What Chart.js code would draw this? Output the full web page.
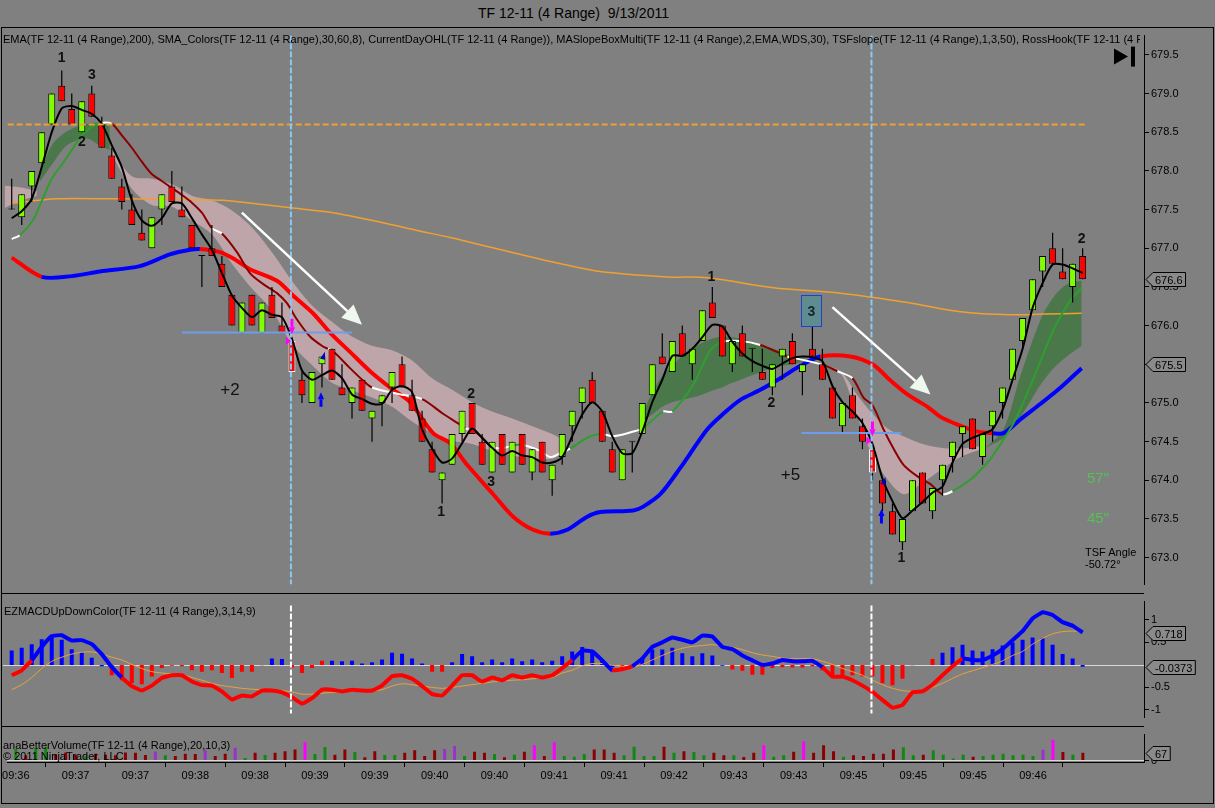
<!DOCTYPE html>
<html>
<head>
<meta charset="utf-8">
<title>TF 12-11 (4 Range) 9/13/2011</title>
<script src="https://cdn.jsdelivr.net/npm/chart.js@4.4.1/dist/chart.umd.min.js"></script>
<style>
  html, body { margin: 0; padding: 0; background: #808080; width: 1215px; height: 808px; overflow: hidden;
    font-family: 'Liberation Sans', Arial, sans-serif; }
  .pane { position: absolute; left: 0; width: 1215px; }
  .pane canvas { display: block; }
  .txt { position: absolute; color: #000; font-size: 11px; line-height: 12px; white-space: nowrap; z-index: 3; }
  .rule { position: absolute; background: #000; z-index: 2; }
</style>
</head>
<body>
<div class="txt" style="left:3px;width:1141px;top:5px;text-align:center;font-size:14px;line-height:16px">TF 12-11 (4 Range)&nbsp; 9/13/2011</div>
<div style="position:absolute;left:1px;top:27px;width:1211px;height:775px;border:1px solid #000"></div>

<div class="pane" style="top:27px;height:566px"><canvas id="priceChart" width="1215" height="566"></canvas></div>
<div class="pane" style="top:593px;height:133px"><canvas id="macdChart" width="1215" height="133"></canvas></div>
<div class="pane" style="top:726px;height:82px"><canvas id="volChart" width="1215" height="82"></canvas></div>

<div class="rule" style="left:2px;top:593px;width:1142px;height:1px"></div>
<div class="rule" style="left:2px;top:726px;width:1142px;height:1px"></div>

<div class="txt" style="left:3px;top:33px;width:1137px;overflow:hidden">EMA(TF 12-11 (4 Range),200), SMA_Colors(TF 12-11 (4 Range),30,60,8), CurrentDayOHL(TF 12-11 (4 Range)), MASlopeBoxMulti(TF 12-11 (4 Range),2,EMA,WDS,30), TSFslope(TF 12-11 (4 Range),1,3,50), RossHook(TF 12-11 (4 Range))</div>
<div class="txt" style="left:4px;top:605px">EZMACDUpDownColor(TF 12-11 (4 Range),3,14,9)</div>
<div class="txt" style="left:3px;top:739px">anaBetterVolume(TF 12-11 (4 Range),20,10,3)</div>
<div class="txt" style="left:3px;top:750px">© 2011 NinjaTrader, LLC</div>
<div class="txt" style="left:1087px;top:470px;font-size:15px;line-height:16px;color:#55C055">57"</div>
<div class="txt" style="left:1087px;top:510px;font-size:15px;line-height:16px;color:#55C055">45"</div>
<div class="txt" style="left:1085px;top:546px">TSF Angle</div>
<div class="txt" style="left:1085px;top:558px">-50.72°</div>

<script>
// ---- time axis ----
const timeLabels = ['09:36', '09:37', '09:37', '09:38', '09:38', '09:39', '09:39', '09:40', '09:40',
  '09:41', '09:41', '09:42', '09:43', '09:43', '09:45', '09:45', '09:45', '09:46'];
const tickEvery = 6;

// ---- 4 range bars ----
const opens = [677.5, 677.4, 677.8, 678.1, 678.6, 679.1, 678.8, 678.5, 679.0, 678.6,
  678.2, 677.8, 677.5, 677.2, 677.0, 677.5, 677.8, 677.5, 677.3, 676.9,
  677.0, 676.8, 676.4, 675.9, 676.4, 675.9, 676.4, 676.0, 675.8, 675.3,
  675.0, 675.5, 675.7, 675.2, 675.0, 675.3, 674.8, 675.0, 675.2, 675.5,
  675.1, 674.8, 674.4, 674.0, 674.2, 674.6, 675.0, 674.5, 674.1, 674.6,
  674.1, 674.6, 674.1, 674.5, 674.0, 674.3, 674.7, 675.0, 675.3, 674.9,
  674.4, 674.0, 674.5, 674.6, 675.1, 675.6, 675.4, 675.9, 675.5, 675.8,
  676.3, 676.0, 675.5, 675.9, 675.7, 675.4, 675.2, 675.6, 675.8, 675.4,
  675.7, 675.5, 675.2, 674.7, 675.1, 674.7, 674.4, 674.0, 673.6, 673.2,
  673.6, 674.1, 673.6, 674.0, 674.3, 674.6, 674.8, 674.3, 674.7, 675.0,
  675.3, 675.8, 676.2, 676.7, 677.0, 676.7, 676.5, 676.9];
const highs = [677.9, 677.7, 678.0, 678.5, 679.0, 679.3, 679.0, 678.9, 679.1, 678.7,
  678.3, 677.9, 677.7, 677.5, 677.4, 677.7, 678.0, 677.8, 677.3, 676.9,
  677.3, 676.9, 676.4, 676.3, 676.4, 676.3, 676.5, 676.3, 675.8, 675.4,
  675.4, 675.6, 675.7, 675.5, 675.2, 675.3, 674.9, 675.1, 675.4, 675.6,
  675.3, 674.9, 674.5, 674.1, 674.6, 674.9, 675.0, 674.6, 674.5, 674.6,
  674.5, 674.6, 674.4, 674.5, 674.2, 674.6, 674.9, 675.2, 675.4, 674.9,
  674.5, 674.4, 674.5, 675.0, 675.5, 675.9, 675.8, 676.0, 675.7, 676.2,
  676.5, 676.0, 675.8, 676.0, 675.7, 675.7, 675.5, 675.7, 675.9, 675.5,
  676.0, 675.7, 675.2, 675.0, 675.2, 674.8, 674.4, 674.0, 673.7, 673.5,
  674.0, 674.1, 673.9, 674.2, 674.5, 674.7, 674.8, 674.6, 674.9, 675.2,
  675.7, 676.1, 676.6, 676.9, 677.2, 677.0, 676.8, 677.0];
const lows = [677.5, 677.3, 677.6, 678.1, 678.6, 678.9, 678.6, 678.5, 678.7, 678.3,
  677.9, 677.5, 677.3, 677.1, 677.0, 677.3, 677.6, 677.4, 677.0, 676.5,
  676.9, 676.5, 676.0, 675.9, 676.0, 675.9, 676.1, 675.9, 675.4, 675.0,
  675.0, 675.2, 675.3, 675.1, 674.8, 674.9, 674.5, 674.7, 675.0, 675.2,
  674.9, 674.5, 674.1, 673.7, 674.2, 674.5, 674.6, 674.2, 674.1, 674.2,
  674.1, 674.2, 674.0, 674.1, 673.8, 674.2, 674.5, 674.8, 675.0, 674.5,
  674.1, 674.0, 674.1, 674.6, 675.1, 675.5, 675.4, 675.6, 675.3, 675.8,
  676.1, 675.6, 675.4, 675.6, 675.4, 675.3, 675.1, 675.3, 675.5, 675.1,
  675.6, 675.3, 674.8, 674.6, 674.8, 674.4, 674.0, 673.6, 673.3, 673.1,
  673.6, 673.7, 673.5, 673.8, 674.1, 674.3, 674.4, 674.2, 674.5, 674.8,
  675.3, 675.7, 676.2, 676.5, 676.8, 676.6, 676.3, 676.6];
const closes = [677.5, 677.7, 678.0, 678.5, 679.0, 678.9, 678.6, 678.9, 678.7, 678.3,
  677.9, 677.6, 677.3, 677.1, 677.4, 677.7, 677.6, 677.4, 677.0, 676.9,
  676.9, 676.5, 676.0, 676.3, 676.0, 676.3, 676.1, 675.9, 675.4, 675.1,
  675.4, 675.6, 675.3, 675.1, 675.2, 674.9, 674.9, 675.1, 675.4, 675.2,
  674.9, 674.5, 674.1, 674.1, 674.6, 674.9, 674.6, 674.2, 674.5, 674.2,
  674.5, 674.2, 674.4, 674.1, 674.2, 674.6, 674.9, 675.2, 675.0, 674.5,
  674.1, 674.4, 674.5, 675.0, 675.5, 675.5, 675.8, 675.6, 675.7, 676.2,
  676.1, 675.6, 675.8, 675.6, 675.7, 675.3, 675.5, 675.7, 675.5, 675.5,
  675.6, 675.3, 674.8, 675.0, 674.8, 674.5, 674.1, 673.7, 673.3, 673.5,
  674.0, 673.7, 673.9, 674.2, 674.5, 674.7, 674.4, 674.6, 674.9, 675.2,
  675.7, 676.1, 676.6, 676.9, 676.8, 676.6, 676.8, 676.6];
const hollowBars = [28, 86];

// ---- price overlays ----
const fastLine = [677.39, 677.48, 677.64, 678.05, 678.50, 678.81, 678.84, 678.79, 678.74, 678.61,
  678.33, 678.05, 677.62, 677.36, 677.29, 677.39, 677.58, 677.58, 677.39, 677.18,
  676.98, 676.68, 676.39, 676.23, 676.11, 676.20, 676.14, 676.11, 675.83, 675.42,
  675.30, 675.36, 675.42, 675.32, 675.11, 675.05, 674.99, 674.99, 675.17, 675.22,
  675.14, 674.66, 674.41, 674.23, 674.28, 674.48, 674.67, 674.55, 674.42, 674.32,
  674.38, 674.32, 674.30, 674.23, 674.23, 674.30, 674.57, 674.85, 675.01, 674.89,
  674.57, 674.35, 674.35, 674.63, 675.01, 675.30, 675.61, 675.61, 675.70, 675.85,
  676.01, 675.99, 675.79, 675.64, 675.54, 675.48, 675.44, 675.51, 675.58, 675.60,
  675.59, 675.54, 675.22, 675.01, 674.89, 674.74, 674.47, 674.02, 673.73, 673.51,
  673.61, 673.72, 673.84, 673.92, 674.23, 674.47, 674.55, 674.60, 674.66, 674.91,
  675.30, 675.70, 676.23, 676.55, 676.79, 676.79, 676.74, 676.68];

const maLine = [[0.0, 677.12], [0.8, 677.17], [2.1, 677.36], [3.1, 677.64], [4.0, 677.90], [5.0, 678.08],
  [6.0, 678.27], [7.0, 678.46], [8.0, 678.57], [8.8, 678.62], [10.0, 678.61], [11.0, 678.46], [12.0, 678.30],
  [13.0, 678.12], [14.0, 677.96], [15.0, 677.87], [16.0, 677.78], [17.0, 677.69], [18.0, 677.59], [19.0, 677.46],
  [20.0, 677.26], [21.0, 677.19], [22.5, 676.95], [23.8, 676.68], [25.1, 676.54], [26.5, 676.42], [27.5, 676.29],
  [28.5, 676.08], [29.8, 675.86], [31.1, 675.73], [31.6, 675.70], [32.2, 675.66], [33.8, 675.45], [35.1, 675.29],
  [36.0, 675.20], [38.5, 675.12], [41.0, 675.05], [43.1, 674.86], [44.8, 674.72], [45.3, 674.67], [46.0, 674.66],
  [47.0, 674.55], [47.8, 674.45], [48.8, 674.41], [50.1, 674.45], [51.0, 674.46], [52.8, 674.38], [53.8, 674.30],
  [54.8, 674.35], [55.8, 674.41], [57.5, 674.55], [58.8, 674.60], [60.1, 674.57], [62.1, 674.63], [63.0, 674.67],
  [64.1, 674.79], [65.1, 674.89], [66.0, 674.89], [68.1, 675.24], [69.8, 675.68], [71.0, 675.79], [72.8, 675.80],
  [74.8, 675.75], [76.8, 675.64], [77.5, 675.60], [79.3, 675.55], [81.1, 675.49], [82.5, 675.41], [84.0, 675.32],
  [85.1, 675.07], [86.0, 674.97], [87.1, 674.66], [88.1, 674.41], [89.1, 674.20], [90.5, 674.05], [91.8, 673.95],
  [93.0, 673.82], [94.0, 673.86], [95.8, 674.01], [97.5, 674.23], [98.5, 674.41], [100.1, 674.74], [102.1, 675.32],
  [104.1, 675.95], [105.8, 676.33], [106.9, 676.49]];
const maTone = 'WGGGGGGGGW' + 'RRRRRRRRRR' + 'WRRRRRRRRR' + 'WRRRWWRRRW' + 'RRWWGWWWWG' +
  'GWWWGGWGGG' + 'WWRRWWRWRR' + 'RRRRRRWGGG' + 'GGGGGG';

const slopeLine = [[0.0, 676.88], [3.0, 676.63], [6.0, 676.64], [8.8, 676.70], [12.8, 676.77], [15.8, 676.92],
  [17.8, 676.98], [18.8, 676.99], [20.8, 676.95], [22.1, 676.87], [23.8, 676.73], [26.5, 676.58], [28.1, 676.39],
  [30.1, 676.16], [31.8, 675.91], [33.8, 675.66], [35.8, 675.41], [37.8, 675.20], [39.8, 675.01], [42.1, 674.61],
  [43.8, 674.48], [45.5, 674.20], [48.1, 673.82], [50.1, 673.53], [52.1, 673.36], [53.8, 673.31], [55.5, 673.36],
  [57.5, 673.53], [58.8, 673.59], [62.1, 673.61], [63.1, 673.66], [64.8, 673.82], [66.8, 674.16], [69.5, 674.66],
  [71.1, 674.86], [72.8, 675.04], [74.8, 675.17], [76.8, 675.32], [78.8, 675.48], [80.8, 675.60], [83.8, 675.60],
  [86.1, 675.49], [87.8, 675.29], [89.5, 675.11], [91.5, 674.95], [92.8, 674.82], [94.5, 674.72], [96.5, 674.63],
  [98.0, 674.61], [99.1, 674.61], [100.8, 674.79], [102.8, 674.99], [104.8, 675.20], [106.9, 675.45]];
const slopeTone = 'R' + 'BBBBBB' + 'RRRRRRRRRRRRRRRRRR' + 'BBBBBBBBBBBBBB' + 'RRRRRRRRR' + 'BBBBBB';

const emaLine = [[0.0, 677.58], [4.5, 677.64], [9.8, 677.64], [17.5, 677.63], [21.1, 677.62], [25.5, 677.56],
  [28.1, 677.52], [32.1, 677.46], [37.1, 677.33], [40.5, 677.23], [43.8, 677.14], [53.8, 676.83], [58.8, 676.70],
  [65.5, 676.63], [69.5, 676.62], [76.1, 676.49], [82.8, 676.42], [89.5, 676.30], [94.8, 676.18], [99.8, 676.14],
  [103.1, 676.15], [106.9, 676.16]];

// cloud between the two SMA_Colors averages
const cloudA = { x: [2.8, 4.0, 5.5, 7.5, 8.8, 9.8],
  hi: [677.96, 678.33, 678.51, 678.61, 678.62, 678.58], lo: [677.86, 678.08, 678.33, 678.42, 678.33, 678.27] };
const cloudB = { x: [-0.7, 0.8, 2.5], hi: [677.81, 677.79, 677.74], lo: [677.52, 677.61, 677.68] };
const cloudC = { x: [10, 12, 14, 16, 18, 20, 22, 24, 26, 28, 30, 32, 34, 36, 38, 40, 42, 44, 46, 48, 50, 52, 54, 55.3],
  hi: [678.27, 677.93, 677.90, 677.83, 677.68, 677.62, 677.49, 677.27, 676.95, 676.58, 676.26, 676.05,
    675.86, 675.74, 675.68, 675.55, 675.32, 675.17, 675.01, 674.89, 674.80, 674.70, 674.60, 674.51],
  lo: [678.21, 677.77, 677.56, 677.54, 677.36, 677.18, 676.80, 676.48, 676.20, 675.76, 675.49, 675.26,
    675.16, 675.07, 674.95, 674.76, 674.61, 674.51, 674.47, 674.38, 674.32, 674.28, 674.28, 674.38] };
const cloudD = { x: [62.8, 64, 65, 66, 67, 68, 69, 70, 71, 72, 73, 74, 75, 76, 77, 78, 79, 80.3],
  hi: [674.79, 675.14, 675.35, 675.48, 675.61, 675.70, 675.78, 675.83, 675.86, 675.85, 675.83, 675.79,
    675.75, 675.70, 675.66, 675.61, 675.58, 675.54],
  lo: [674.74, 674.85, 674.95, 675.01, 675.04, 675.07, 675.11, 675.16, 675.20, 675.26, 675.31, 675.36,
    675.41, 675.45, 675.48, 675.50, 675.53, 675.54] };
const cloudE = { x: [80.8, 82.8, 84.5, 85.8, 87.5, 89.1, 90.8, 92.8, 94.8, 97.3],
  hi: [675.50, 675.41, 675.10, 674.89, 674.67, 674.57, 674.48, 674.42, 674.41, 674.45],
  lo: [675.50, 675.39, 674.82, 674.38, 674.01, 673.82, 673.95, 674.13, 674.30, 674.42] };
const cloudF = { x: [97.3, 99.1, 100.8, 102.8, 104.1, 105.5, 106.9],
  hi: [674.42, 674.66, 675.36, 676.08, 676.37, 676.54, 676.58],
  lo: [674.42, 674.55, 674.82, 675.24, 675.45, 675.61, 675.74] };

const priceTicks = [673.0, 673.5, 674.0, 674.5, 675.0, 675.5, 676.0, 676.5, 677.0, 677.5, 678.0, 678.5, 679.0, 679.5];
const priceTags = [676.6, 675.5];
const dayHigh = 678.6;
const dayHighSpan = [-0.4, 107.5];
const markerBars = [27.9, 85.9];
const entryLines = [[17.0, 34.0, 675.91], [78.9, 88.9, 674.61]];
const trendArrows = [[23.0, 677.46, 35.0, 676.01], [82.0, 676.24, 91.8, 675.11]];
const swingBars = [5.0, 8.0, 7.0, 42.9, 45.9, 47.9, 69.9, 75.9, 88.9, 106.9];
const swingPrices = [679.46, 679.24, 678.37, 673.59, 675.12, 673.98, 676.63, 675.00, 672.99, 677.12];
const swingTexts = ['1', '3', '2', '1', '2', '3', '1', '2', '1', '2'];
const tradeBars = [21.8, 77.8];
const tradePrices = [675.17, 674.07];
const tradeTexts = ['+2', '+5'];
const hookBox = [78.9, 80.9, 675.99, 676.39];
const sellArrows = [[28.0, 676.09, 675.89], [86.0, 674.76, 674.57]];
const buyArrows = [[30.9, 674.95, 675.14], [86.9, 673.44, 673.63]];
const sellTicks = [[27.6, 675.80], [85.6, 674.51]];
const buyTicks = [[31.1, 675.61], [87.1, 673.99]];

// ---- EZMACD ----
const macdHist = [0.32, 0.38, 0.46, 0.57, 0.66, 0.56, 0.35, 0.28, 0.16, -0.03,
  -0.23, -0.34, -0.40, -0.43, -0.26, -0.07, -0.02, -0.03, -0.12, -0.15,
  -0.12, -0.18, -0.29, -0.15, -0.15, -0.01, 0.14, 0.13, -0.06, -0.18,
  -0.07, 0.09, 0.09, 0.08, 0.09, 0.03, 0.06, 0.12, 0.27, 0.25,
  0.14, 0.03, -0.15, -0.15, 0.06, 0.24, 0.19, 0.06, 0.12, 0.06,
  0.14, 0.08, 0.12, 0.06, 0.09, 0.19, 0.30, 0.40, 0.29, 0.11,
  -0.06, -0.07, -0.04, 0.16, 0.34, 0.34, 0.38, 0.26, 0.19, 0.26,
  0.21, -0.02, -0.10, -0.13, -0.22, -0.22, -0.07, -0.05, -0.06, -0.06,
  -0.03, -0.12, -0.28, -0.23, -0.23, -0.26, -0.25, -0.41, -0.45, -0.31,
  -0.01, 0, 0.13, 0.27, 0.39, 0.45, 0.32, 0.30, 0.35, 0.43,
  0.50, 0.56, 0.61, 0.59, 0.45, 0.24, 0.14, -0.04];
const macdHistTone = 'BBBBBBBBBB' + 'RRRRRRRRRR' + 'RRRRRRBBRR' + 'RRBBBBBBBB' + 'BBRRBBBBBB' +
  'BBBBBBBBBB' + 'BRRBBBBBBB' + 'BBRRRRRRRR' + 'RRRRRRRRRR' + 'RRRBBBBBBB' + 'BBBBBBBB';
const macdLine = [-0.23, -0.12, 0.10, 0.40, 0.64, 0.66, 0.54, 0.55, 0.46, 0.24,
  -0.05, -0.28, -0.47, -0.57, -0.46, -0.29, -0.23, -0.23, -0.37, -0.45,
  -0.46, -0.59, -0.77, -0.68, -0.70, -0.57, -0.57, -0.61, -0.72, -0.86,
  -0.74, -0.55, -0.55, -0.59, -0.55, -0.57, -0.57, -0.46, -0.25, -0.23,
  -0.31, -0.47, -0.65, -0.68, -0.46, -0.23, -0.23, -0.37, -0.28, -0.34,
  -0.23, -0.28, -0.23, -0.28, -0.23, -0.07, 0.11, 0.32, 0.30, 0.10,
  -0.12, -0.10, -0.03, 0.14, 0.40, 0.50, 0.61, 0.56, 0.50, 0.65,
  0.63, 0.40, 0.35, 0.21, 0.10, 0.00, 0.03, 0.11, 0.08, 0.08,
  0.09, -0.05, -0.26, -0.26, -0.34, -0.46, -0.60, -0.78, -0.95, -0.89,
  -0.61, -0.59, -0.44, -0.23, -0.03, 0.14, 0.11, 0.11, 0.21, 0.35,
  0.55, 0.75, 1.03, 1.17, 1.11, 0.95, 0.87, 0.72];
// colour of each MACD line segment, as drawn
const macdTone = 'RR' + 'BBBBBBBBB' + 'R'.repeat(45) + 'BBBB' + 'RR' + 'B'.repeat(19) + 'R'.repeat(14) + 'B'.repeat(13);
const macdSignal = [-0.55, -0.44, -0.28, -0.08, 0.08, 0.17, 0.24, 0.28, 0.29, 0.24,
  0.17, 0.11, 0.01, -0.08, -0.15, -0.18, -0.20, -0.21, -0.28, -0.34,
  -0.41, -0.46, -0.49, -0.52, -0.54, -0.55, -0.55, -0.57, -0.60, -0.65,
  -0.65, -0.63, -0.61, -0.60, -0.59, -0.59, -0.58, -0.55, -0.47, -0.42,
  -0.44, -0.47, -0.50, -0.52, -0.50, -0.47, -0.44, -0.41, -0.38, -0.35,
  -0.34, -0.33, -0.31, -0.29, -0.28, -0.18, -0.12, -0.02, 0.03, 0.03,
  -0.01, -0.03, -0.05, 0.01, 0.11, 0.21, 0.30, 0.37, 0.41, 0.43,
  0.45, 0.42, 0.39, 0.34, 0.27, 0.22, 0.19, 0.15, 0.14, 0.14,
  0.14, 0.08, 0.01, -0.08, -0.15, -0.23, -0.34, -0.44, -0.52, -0.57,
  -0.59, -0.58, -0.50, -0.41, -0.30, -0.20, -0.13, -0.06, 0.01, 0.09,
  0.21, 0.30, 0.46, 0.59, 0.69, 0.74, 0.75, 0.75];
const macdTicks = [-1, -0.5, 0.5, 1];
const macdTags = [0.718, -0.0373];

// ---- anaBetterVolume ----
const volume = [100, 45, 110, 120, 55, 70, 50, 40, 60, 50,
  45, 70, 67, 49, 78, 45, 40, 60, 56, 89,
  40, 60, 111, 22, 67, 49, 67, 82, 96, 160,
  56, 118, 51, 96, 74, 29, 82, 49, 49, 67,
  89, 40, 89, 100, 127, 40, 76, 67, 58, 29,
  51, 76, 134, 40, 160, 40, 33, 58, 96, 96,
  67, 45, 120, 40, 40, 120, 67, 82, 74, 47,
  67, 47, 47, 31, 67, 134, 33, 47, 76, 167,
  67, 134, 82, 33, 45, 40, 60, 60, 96, 116,
  45, 51, 89, 51, 18, 51, 33, 40, 51, 60,
  47, 51, 40, 94, 183, 74, 51, 67];
const volumeTone = 'GRGGRRRGRR' + 'RRRRPGRRRP' + 'RRPGRGRRRM' + 'GGRRGRRGGR' + 'RRRPPGRRGR' +
  'GRMRMGGGRR' + 'RGGGGRGRGG' + 'RRGRRMGGRM' + 'RRRGRRRRRG' + 'GRGGGGRGGG' + 'GGGPMRGR';
const volTicks = [0];
const volTags = [67];

// ---- ranges ----
const X_MIN = -0.87, X_MAX = 113.13;
const PRICE_MIN = 672.654, PRICE_MAX = 679.75;
const MACD_MIN = -1.166, MACD_MAX = 1.406;
const VOL_MIN = -13.4, VOL_MAX = 227.8;

const FONT = "'Liberation Sans', Arial, sans-serif";
Chart.defaults.font.family = FONT;
Chart.defaults.font.size = 11;
Chart.defaults.color = '#000';

const UP = '#80FF00', DOWN = '#FF0000';
const toneColor = { W: '#FFFFFF', G: '#2E9E2E', R: '#8B0000', B: '#0000FF' };
const slopeColor = { R: '#FF0000', B: '#0000FF' };
const volColor = { R: '#8B0000', G: '#0F8A0F', P: '#9932CC', M: '#FF00FF' };

function xAxis(show) {
  return {
    type: 'linear', min: X_MIN, max: X_MAX, offset: false, display: show,
    afterBuildTicks: s => { s.ticks = timeLabels.map((t, k) => ({ value: k * tickEvery })); },
    afterFit: s => { if (show) s.height = 41; },
    grid: { drawOnChartArea: false, drawTicks: true, tickLength: 5, color: '#000' },
    border: { display: true, color: '#000' },
    ticks: { color: '#000', padding: 2, maxRotation: 0, autoSkip: false, callback: (v, i) => timeLabels[i] }
  };
}

function yAxis(min, max, ticks, fmt) {
  return {
    position: 'right', min, max,
    afterFit: s => { s.width = 70; },
    afterBuildTicks: s => { s.ticks = ticks.map(v => ({ value: v })); },
    grid: { drawOnChartArea: false, drawTicks: true, tickLength: 5, color: '#000' },
    border: { display: true, color: '#000' },
    ticks: { color: '#000', padding: 2, autoSkip: false, callback: fmt }
  };
}

function baseOptions(scales, bottom) {
  return {
    responsive: false, animation: false, events: [],
    layout: { padding: { left: 3, right: 1, top: 0, bottom }, autoPadding: false },
    plugins: { legend: { display: false }, tooltip: { enabled: false } },
    scales
  };
}

function drawTag(chart, value, text) {
  const ctx = chart.ctx;
  const y = Math.round(chart.scales.y.getPixelForValue(value)) + 0.5;
  const x0 = chart.chartArea.right + 2;
  ctx.save();
  ctx.font = '11px ' + FONT;
  const w = ctx.measureText(text).width + 5;
  ctx.beginPath();
  ctx.moveTo(x0, y);
  ctx.lineTo(x0 + 7, y - 7);
  ctx.lineTo(x0 + 7 + w, y - 7);
  ctx.lineTo(x0 + 7 + w, y + 7);
  ctx.lineTo(x0 + 7, y + 7);
  ctx.closePath();
  ctx.fillStyle = '#8A8A8A';
  ctx.fill();
  ctx.strokeStyle = '#000';
  ctx.lineWidth = 1;
  ctx.stroke();
  ctx.fillStyle = '#000';
  ctx.textBaseline = 'middle';
  ctx.textAlign = 'left';
  ctx.fillText(text, x0 + 9, y + 1);
  ctx.restore();
}

function arrow(ctx, x1, y1, x2, y2, width, head, color, headColor) {
  const a = Math.atan2(y2 - y1, x2 - x1);
  const bx = x2 - head * Math.cos(a), by = y2 - head * Math.sin(a);
  const hw = head * 0.45;
  ctx.strokeStyle = color;
  ctx.lineWidth = width;
  ctx.beginPath(); ctx.moveTo(x1, y1); ctx.lineTo(bx, by); ctx.stroke();
  ctx.fillStyle = headColor;
  ctx.beginPath();
  ctx.moveTo(x2, y2);
  ctx.lineTo(bx + hw * Math.sin(a), by - hw * Math.cos(a));
  ctx.lineTo(bx - hw * Math.sin(a), by + hw * Math.cos(a));
  ctx.closePath();
  ctx.fill();
}

function cloudPair(c, color) {
  const line = { type: 'line', pointRadius: 0, borderWidth: 0, tension: 0.3, order: 10 };
  return [
    Object.assign({}, line, { data: c.x.map((b, k) => ({ x: b, y: c.hi[k] })), backgroundColor: color, fill: '+1' }),
    Object.assign({}, line, { data: c.x.map((b, k) => ({ x: b, y: c.lo[k] })), fill: false })
  ];
}

const PINK = 'rgba(252,202,212,0.5)', GREEN = 'rgba(22,112,22,0.5)';

// ---------------- price panel ----------------
const priceMarks = {
  id: 'priceMarks',
  afterDatasetsDraw(chart) {
    const { ctx, chartArea: a, scales: { x, y } } = chart;
    const X = v => x.getPixelForValue(v), Y = v => y.getPixelForValue(v);
    ctx.save();
    ctx.beginPath(); ctx.rect(a.left, a.top, a.right - a.left, a.bottom - a.top); ctx.clip();

    // current day high
    ctx.setLineDash([6, 3]);
    ctx.strokeStyle = '#F0A030'; ctx.lineWidth = 2;
    ctx.beginPath(); ctx.moveTo(X(dayHighSpan[0]), Y(dayHigh)); ctx.lineTo(X(dayHighSpan[1]), Y(dayHigh)); ctx.stroke();

    // signal bars
    ctx.setLineDash([6, 2]);
    ctx.strokeStyle = '#8CC8F0'; ctx.lineWidth = 2;
    markerBars.forEach(b => {
      ctx.beginPath(); ctx.moveTo(X(b), a.top); ctx.lineTo(X(b), a.bottom); ctx.stroke();
    });
    ctx.setLineDash([]);

    // entry levels
    ctx.strokeStyle = '#6E9BEB'; ctx.lineWidth = 2;
    entryLines.forEach(([b0, b1, p]) => {
      ctx.beginPath(); ctx.moveTo(X(b0), Y(p)); ctx.lineTo(X(b1), Y(p)); ctx.stroke();
    });

    // trend arrows
    trendArrows.forEach(([b0, p0, b1, p1]) => arrow(ctx, X(b0), Y(p0), X(b1), Y(p1), 2.5, 20, '#FFFFFF', '#EEF8EE'));

    // sell / buy arrows
    sellArrows.forEach(([b, p0, p1]) => arrow(ctx, X(b), Y(p0), X(b), Y(p1), 3, 7, '#FF00FF', '#FF00FF'));
    buyArrows.forEach(([b, p0, p1]) => arrow(ctx, X(b), Y(p0), X(b), Y(p1), 3, 7, '#0000FF', '#0000FF'));
    ctx.fillStyle = '#FF00FF';
    sellTicks.forEach(([b, p]) => {
      ctx.beginPath(); ctx.moveTo(X(b) - 2, Y(p) - 4); ctx.lineTo(X(b) + 3, Y(p)); ctx.lineTo(X(b) - 2, Y(p) + 4); ctx.closePath(); ctx.fill();
    });
    ctx.fillStyle = '#0000C0';
    buyTicks.forEach(([b, p]) => {
      ctx.beginPath(); ctx.moveTo(X(b) + 2, Y(p) - 4); ctx.lineTo(X(b) + 2, Y(p) + 4); ctx.lineTo(X(b) - 3, Y(p) + 3); ctx.closePath(); ctx.fill();
    });

    // RossHook box
    const bx0 = X(hookBox[0]), bx1 = X(hookBox[1]), by0 = Y(hookBox[3]), by1 = Y(hookBox[2]);
    ctx.fillStyle = '#5E8C91';
    ctx.fillRect(bx0, by0, bx1 - bx0, by1 - by0);
    ctx.strokeStyle = '#2040D0'; ctx.lineWidth = 1;
    ctx.strokeRect(Math.round(bx0) + 0.5, Math.round(by0) + 0.5, Math.round(bx1 - bx0), Math.round(by1 - by0));
    ctx.fillStyle = '#102828';
    ctx.font = 'bold 14px ' + FONT;
    ctx.textAlign = 'center'; ctx.textBaseline = 'middle';
    ctx.fillText('3', (bx0 + bx1) / 2, (by0 + by1) / 2 + 1);

    // swing counts
    ctx.fillStyle = '#111';
    ctx.font = 'bold 14px ' + FONT;
    swingBars.forEach((b, k) => ctx.fillText(swingTexts[k], X(b), Y(swingPrices[k])));

    // trade results
    ctx.font = '17px ' + FONT;
    tradeBars.forEach((b, k) => ctx.fillText(tradeTexts[k], X(b), Y(tradePrices[k])));
    ctx.restore();
  },
  afterDraw(chart) {
    const { ctx, chartArea: a } = chart;
    priceTags.forEach(v => drawTag(chart, v, v.toFixed(1)));
    // jump-to-end button
    ctx.save();
    ctx.fillStyle = '#000';
    ctx.beginPath();
    ctx.moveTo(a.right - 30, a.top + 13); ctx.lineTo(a.right - 16, a.top + 21); ctx.lineTo(a.right - 30, a.top + 29);
    ctx.closePath(); ctx.fill();
    ctx.fillRect(a.right - 13, a.top + 11, 4, 20);
    ctx.restore();
  }
};

const wickData = highs.map((h, i) => ({ x: i, y: [lows[i], h] }));
const bodyData = opens.map((o, i) => ({ x: i, y: [o, closes[i]] }));
const bodyFill = opens.map((o, i) => closes[i] > o ? UP : closes[i] < o ? DOWN : '#000');
const bodyEdge = opens.map((o, i) => hollowBars.includes(i) ? '#FFFFFF' : '#000');

new Chart(document.getElementById('priceChart'), {
  type: 'bar',
  data: {
    datasets: [
      ...cloudPair(cloudA, GREEN), ...cloudPair(cloudB, PINK), ...cloudPair(cloudC, PINK),
      ...cloudPair(cloudD, GREEN), ...cloudPair(cloudE, PINK), ...cloudPair(cloudF, GREEN),
      { type: 'line', data: emaLine.map(([b, p]) => ({ x: b, y: p })), borderColor: '#F0A030', borderWidth: 1.5,
        pointRadius: 0, tension: 0.3, fill: false, order: 8 },
      { type: 'line', data: slopeLine.map(([b, p]) => ({ x: b, y: p })), borderWidth: 4, pointRadius: 0,
        tension: 0.3, fill: false, order: 7, borderColor: '#FF0000',
        segment: { borderColor: c => slopeColor[slopeTone[c.p0DataIndex]] } },
      { type: 'line', data: maLine.map(([b, p]) => ({ x: b, y: p })), borderWidth: 2, pointRadius: 0,
        tension: 0.3, fill: false, order: 6, borderColor: '#2E9E2E',
        segment: { borderColor: c => toneColor[maTone[c.p0DataIndex]] } },
      { type: 'bar', data: wickData, backgroundColor: '#000', borderWidth: 0, grouped: false,
        categoryPercentage: 1, barPercentage: 0.12, order: 5 },
      { type: 'bar', data: bodyData, backgroundColor: bodyFill, borderColor: bodyEdge, borderWidth: 1,
        borderSkipped: false, minBarLength: 1, grouped: false, categoryPercentage: 1, barPercentage: 0.7, order: 4 },
      { type: 'line', data: fastLine.map((p, i) => ({ x: i, y: p })), borderColor: '#000', borderWidth: 2,
        pointRadius: 0, tension: 0.25, fill: false, order: 3 }
    ]
  },
  options: baseOptions({ x: xAxis(false), y: yAxis(PRICE_MIN, PRICE_MAX, priceTicks, v => v.toFixed(1)) }, 0),
  plugins: [priceMarks]
});

// ---------------- MACD panel ----------------
const macdMarks = {
  id: 'macdMarks',
  beforeDatasetsDraw(chart) {
    const { ctx, chartArea: a, scales: { y } } = chart;
    const y0 = Math.round(y.getPixelForValue(0)) + 0.5;
    ctx.save();
    ctx.strokeStyle = '#D8D8D8'; ctx.lineWidth = 1;
    ctx.beginPath(); ctx.moveTo(a.left, y0); ctx.lineTo(a.right, y0); ctx.stroke();
    ctx.restore();
  },
  afterDatasetsDraw(chart) {
    const { ctx, chartArea: a, scales: { x } } = chart;
    ctx.save();
    ctx.strokeStyle = '#FFFFFF'; ctx.lineWidth = 2; ctx.setLineDash([6, 2]);
    markerBars.forEach(b => {
      ctx.beginPath(); ctx.moveTo(x.getPixelForValue(b), a.top + 4); ctx.lineTo(x.getPixelForValue(b), a.bottom - 4); ctx.stroke();
    });
    ctx.restore();
  },
  afterDraw(chart) {
    macdTags.forEach(v => drawTag(chart, v, String(v)));
  }
};

new Chart(document.getElementById('macdChart'), {
  type: 'bar',
  data: {
    datasets: [
      { type: 'line', data: macdLine.map((v, i) => ({ x: i, y: v })), borderWidth: 4, pointRadius: 0,
        tension: 0.1, fill: false, order: 1, borderColor: '#0000FF',
        segment: { borderColor: c => macdTone[c.p0DataIndex] === 'B' ? '#0000FF' : '#FF0000' } },
      { type: 'line', data: macdSignal.map((v, i) => ({ x: i, y: v })), borderWidth: 1, pointRadius: 0,
        tension: 0.3, fill: false, order: 2, borderColor: '#E8A040' },
      { type: 'bar', data: macdHist.map((v, i) => ({ x: i, y: v })),
        backgroundColor: macdHist.map((v, i) => macdHistTone[i] === 'B' ? '#0000FF' : '#FF0000'),
        borderWidth: 0, grouped: false, categoryPercentage: 1, barPercentage: 0.4, order: 3 }
    ]
  },
  options: baseOptions({ x: xAxis(false), y: yAxis(MACD_MIN, MACD_MAX, macdTicks, v => String(v)) }, 0),
  plugins: [macdMarks]
});

// ---------------- volume panel ----------------
const volMarks = {
  id: 'volMarks',
  beforeDatasetsDraw(chart) {
    const { ctx, chartArea: a, scales: { y } } = chart;
    const y0 = Math.round(y.getPixelForValue(0)) + 0.5;
    ctx.save();
    ctx.strokeStyle = '#D8D8D8'; ctx.lineWidth = 1;
    ctx.beginPath(); ctx.moveTo(a.left, y0); ctx.lineTo(a.right, y0); ctx.stroke();
    ctx.restore();
  },
  afterDraw(chart) {
    volTags.forEach(v => drawTag(chart, v, String(v)));
  }
};

new Chart(document.getElementById('volChart'), {
  type: 'bar',
  data: {
    datasets: [
      { data: volume.map((v, i) => ({ x: i, y: v })), backgroundColor: volume.map((v, i) => volColor[volumeTone[i]]),
        borderWidth: 0, grouped: false, categoryPercentage: 1, barPercentage: 0.3 }
    ]
  },
  options: baseOptions({ x: xAxis(true), y: yAxis(VOL_MIN, VOL_MAX, volTicks, v => String(v)) }, 5),
  plugins: [volMarks]
});
</script>
</body>
</html>
